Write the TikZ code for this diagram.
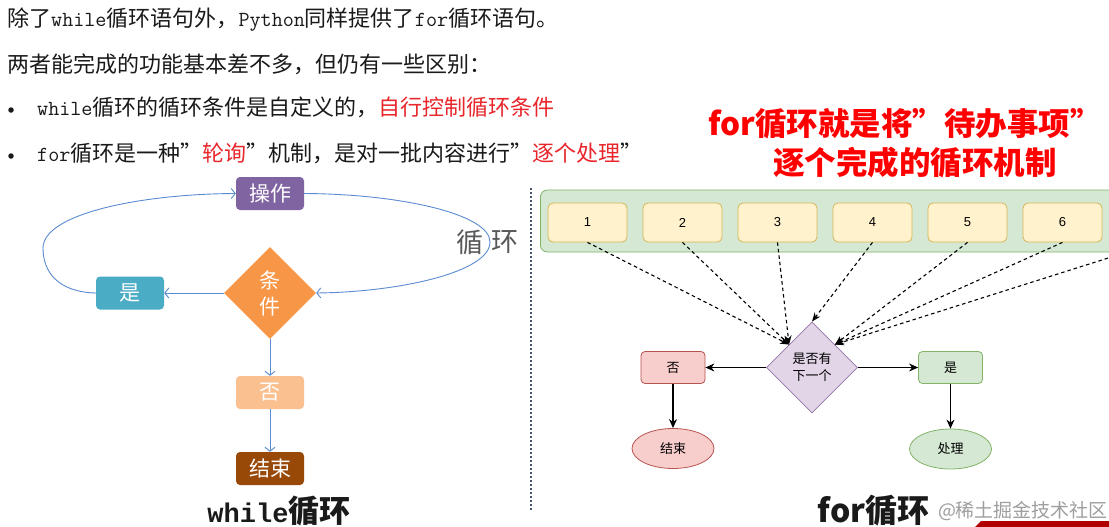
\documentclass[tikz,border=0pt]{standalone}
\usepackage{fontspec}
\setmainfont{Noto Sans CJK SC}
\newfontfamily\cjk{Noto Sans CJK SC}
\newfontfamily\lmf{Liberation Mono}
\newfontfamily\arialf{Liberation Sans}
\newcommand{\lat}[1]{{\ttfamily\fontsize{21.5}{21.5}\selectfont #1}}
\usetikzlibrary{shapes.geometric,arrows.meta}
\definecolor{cPurple}{HTML}{8064A2}
\definecolor{cTeal}{HTML}{4BACC6}
\definecolor{cOrange}{HTML}{F79646}
\definecolor{cLightOr}{HTML}{FAC090}
\definecolor{cBrown}{HTML}{984807}
\definecolor{cBlue}{HTML}{5B8BD0}
\definecolor{cSep}{HTML}{44546A}
\definecolor{redt}{HTML}{E8262B}
\definecolor{gFill}{HTML}{D5E8D4}
\definecolor{gLine}{HTML}{82B366}
\definecolor{yFill}{HTML}{FFF2CC}
\definecolor{yLine}{HTML}{D6B656}
\definecolor{pFill}{HTML}{E1D5E7}
\definecolor{pLine}{HTML}{9673A6}
\definecolor{rFill}{HTML}{F8CECC}
\definecolor{rLine}{HTML}{B85450}
\definecolor{txtc}{HTML}{1A1A1A}
\definecolor{loopc}{HTML}{595959}
\definecolor{barred}{HTML}{B00000}
\begin{document}
\begin{tikzpicture}[x=1pt,y=-1pt,
  txt/.style={inner sep=0pt, text=txtc, font=\fontsize{22}{22}\selectfont},
  bullet/.style={circle, fill=txtc, inner sep=0pt, minimum size=5.5pt},
  lbox/.style={rectangle, rounded corners=4pt, minimum width=68pt, minimum height=33pt, inner sep=0pt, text=white, font=\fontsize{21}{21}\selectfont},
  bl/.style={draw=cBlue, line width=0.9pt, -{Straight Barb[length=4pt,width=10pt]}},
  title/.style={inner sep=0pt, text=red, font=\fontsize{31.5}{31.5}\selectfont\bfseries},
  ybox/.style={rectangle, rounded corners=5pt, draw=yLine, fill=yFill, line width=0.8pt, minimum width=79pt, minimum height=39pt, inner sep=0pt, font=\arialf\fontsize{13}{13}\selectfont},
  rbox/.style={rectangle, rounded corners=4pt, line width=0.8pt, minimum width=64pt, minimum height=32pt, inner sep=0pt, font=\fontsize{13}{13}\selectfont},
  rell/.style={ellipse, line width=0.8pt, minimum width=82pt, minimum height=40pt, inner sep=0pt, font=\fontsize{13}{13}\selectfont},
  dasharrow/.style={draw=black, line width=1.1pt, dash pattern=on 3.5pt off 3pt, -{Stealth[length=9pt,width=7pt]}},
  sarrow/.style={draw=black, line width=1.1pt, -{Stealth[length=9pt,width=8pt]}}
]
\useasboundingbox (0,0) rectangle (1109,527);
\clip (0,0) rectangle (1109,527);
\fill[white] (0,0) rectangle (1109,527);

% top text
\node[txt, anchor=west] (l1) at (7,20) {除了\lat{while}循环语句外，\lat{Python}同样提供了\lat{for}循环语句。};
\node[txt, anchor=west] (l2) at (7,64) {两者能完成的功能基本差不多，但仍有一些区别：};
\node[bullet] (b1) at (11,110) {};
\node[txt, anchor=west] (l3) at (37,107) {\lat{while}循环的循环条件是自定义的，\textcolor{redt}{自行控制循环条件}};
\node[bullet] (b2) at (11,156) {};
\node[txt, anchor=west] (l4) at (37,153) {\lat{for}循环是一种”\textcolor{redt}{轮询}”机制，是对一批内容进行”\textcolor{redt}{逐个处理}”};

% left diagram
\node[lbox, fill=cPurple] (op) at (270,193.5) {操作};
\node[lbox, fill=cTeal] (yes) at (130,293) {是};
\node[diamond, fill=cOrange, minimum width=92pt, minimum height=92pt, inner sep=0pt, text=white, align=center, font=\fontsize{21}{26}\selectfont] (cond) at (270,293) {条\\件};
\node[lbox, fill=cLightOr] (no) at (270,392.5) {否};
\node[lbox, fill=cBrown] (end) at (270,468.5) {结束};

\draw[bl] (cond.west) -- (yes.east);
\draw[bl] (cond.south) -- (no.north);
\draw[bl] (no.south) -- (end.north);
\draw[bl] (yes.west) .. controls (58,292) and (43,272) .. (43,248) .. controls (43,214) and (140,194) .. (op.west);
\draw[bl] (op.east) .. controls (400,194) and (490,214) .. (490,242) .. controls (490,272) and (400,292) .. (cond.east);

\node[inner sep=0pt, text=loopc, font=\fontsize{27}{27}\selectfont] (lp1) at (470,242) {循};
\node[inner sep=0pt, text=loopc, font=\fontsize{27}{27}\selectfont] (lp2) at (504.5,242) {环};

\node[inner sep=0pt, text=txtc] (wl) at (279,511) {{\lmf\bfseries\fontsize{27}{27}\selectfont while}{\bfseries\fontsize{31}{31}\selectfont 循环}};

% separator
\coordinate (s1) at (531,188);
\coordinate (s2) at (531,510);
\draw[cSep, line width=2.5pt, dash pattern=on 2pt off 2pt] (s1) -- (s2);

% right side title
\node[title] (t1) at (905,124) {for循环就是将”待办事项”};
\node[title] (t2) at (915,163) {逐个完成的循环机制};

% container and items
\node[rectangle, rounded corners=7pt, draw=gLine, fill=gFill, line width=0.8pt, minimum width=720pt, minimum height=62pt, anchor=west] (cont) at (540,221) {};
\node[ybox] (i1) at (587.5,222.5) {1};
\node[ybox] (i2) at (682.5,222.5) {2};
\node[ybox] (i3) at (777.5,222.5) {3};
\node[ybox] (i4) at (872.5,222.5) {4};
\node[ybox] (i5) at (967.5,222.5) {5};
\node[ybox] (i6) at (1062.5,222.5) {6};
\node[ybox] (i7) at (1157.5,222.5) {};

\node[diamond, draw=pLine, fill=pFill, line width=0.8pt, minimum width=91pt, minimum height=91pt, inner sep=0pt, align=center, font=\fontsize{13}{17}\selectfont] (dec) at (812,367.5) {是否有\\下一个};

\draw[dasharrow] (i1.south) -- (dec.north west);
\draw[dasharrow] (i2.south) -- (dec.north west);
\draw[dasharrow] (i3.south) -- (dec.north west);
\draw[dasharrow] (i4.south) -- (dec.north);
\draw[dasharrow] (i5.south) -- (dec.north east);
\draw[dasharrow] (i6.south) -- (dec.north east);
\draw[dasharrow] (i7.south) -- (dec.north east);

\node[rbox, fill=rFill, draw=rLine] (fno) at (673,367.5) {否};
\node[rbox, fill=gFill, draw=gLine] (fyes) at (950.5,367.5) {是};
\node[rell, fill=rFill, draw=rLine] (fend) at (673,448.5) {结束};
\node[rell, fill=gFill, draw=gLine] (proc) at (950.5,449) {处理};

\draw[sarrow] (dec.west) -- (fno.east);
\draw[sarrow] (dec.east) -- (fyes.west);
\draw[sarrow] (fno.south) -- (fend.north);
\draw[sarrow] (fyes.south) -- (proc.north);

\node[inner sep=0pt, text=txtc, font=\fontsize{32}{32}\selectfont\bfseries] (fl) at (873.5,511) {for循环};

% watermark and bar
\node[inner sep=0pt, text=black!38, font=\fontsize{19}{19}\selectfont] (wm) at (1023,511) {@稀土掘金技术社区};
\fill[barred] (975,527) -- (981,521) -- (1109,521) -- (1109,527) -- cycle;
\end{tikzpicture}
\end{document}
